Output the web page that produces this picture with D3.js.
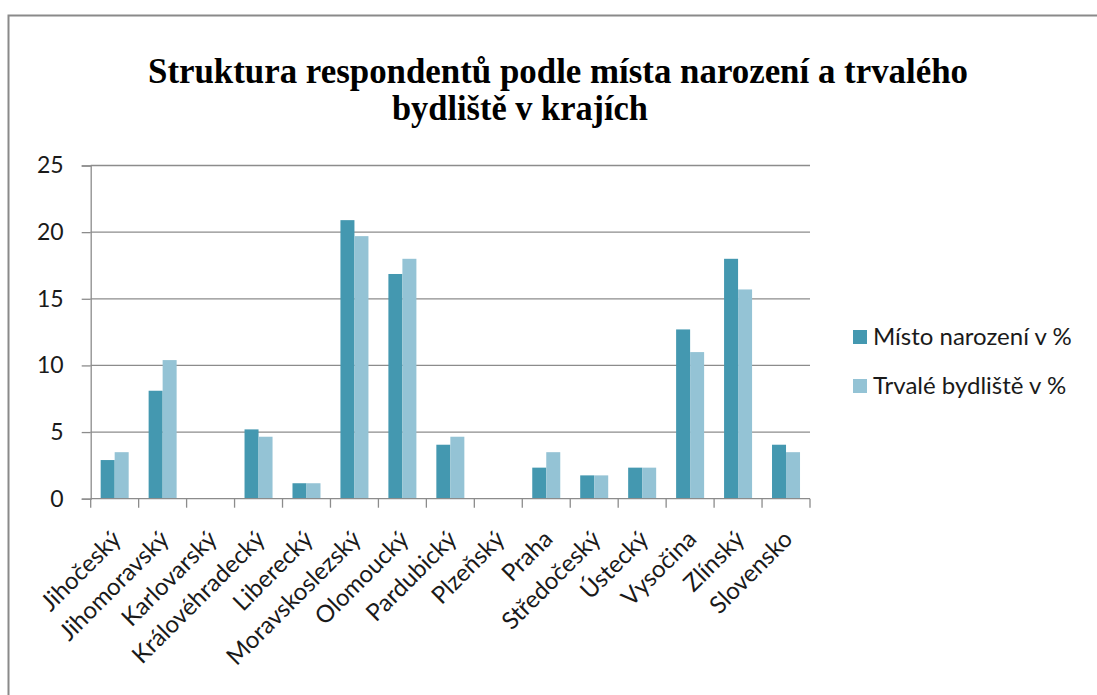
<!DOCTYPE html>
<html><head><meta charset="utf-8">
<script src="https://cdn.jsdelivr.net/npm/d3@7"></script>
<style>
html,body{margin:0;padding:0;background:#fff;}
svg{display:block;}
</style></head>
<body>
<svg id="chart" width="1097" height="695"></svg>
<script>
const categories = ["Jihočeský","Jihomoravský","Karlovarský","Královéhradecký","Liberecký","Moravskoslezský","Olomoucký","Pardubický","Plzeňský","Praha","Středočeský","Ústecký","Vysočina","Zlínský","Slovensko"];
const mistoNarozeni = [2.9,8.1,0,5.2,1.16,20.9,16.86,4.05,0,2.33,1.75,2.33,12.7,18.0,4.05];
const trvaleBydliste = [3.49,10.4,0,4.65,1.16,19.7,18.0,4.65,0,3.49,1.75,2.33,11.0,15.7,3.49];
const seriesNames = ["Místo narození v %","Trvalé bydliště v %"];
const yTicks = [0,5,10,15,20,25];
const titleLines = ["Struktura respondentů podle místa narození a trvalého","bydliště v krajích"];

(function(){
const colors = ["#4498b0","#94c3d5"];
const font = "Lato, 'Open Sans', sans-serif";

const svg = d3.select("#chart");
// outer frame
svg.append("rect").attr("x",8.5).attr("y",15.5).attr("width",1200).attr("height",800)
  .attr("fill","#fff").attr("stroke","#8a8a8a").attr("stroke-width",2);

// title
const titleX = [558,520];
const titleY = [83,120];
const titleW = [820,256];
titleLines.forEach((t,i)=>{
  svg.append("text").attr("x",titleX[i]).attr("y",titleY[i]).attr("text-anchor","middle")
    .attr("font-family","'Liberation Serif','Times New Roman',serif").attr("font-weight","bold")
    .attr("font-size",36).attr("fill","#000")
    .attr("textLength",titleW[i]).attr("lengthAdjust","spacingAndGlyphs").text(t);
});

const pLeft=90.7, pRight=810, pTop=165.5, pBottom=498.7;
const x = d3.scaleBand().domain(categories).range([pLeft,pRight]).paddingInner(0).paddingOuter(0);
const y = d3.scaleLinear().domain([0,25]).range([pBottom,pTop]);
const bw = x.bandwidth();
const barW = bw*0.292;

// gridlines
svg.append("g").selectAll("line").data(yTicks.filter(d=>d>0)).join("line")
  .attr("x1",pLeft).attr("x2",pRight).attr("y1",d=>y(d)).attr("y2",d=>y(d))
  .attr("stroke","#8c8c8c").attr("stroke-width",1.3);

// bars
const data = categories.map((c,i)=>({c, v:[mistoNarozeni[i],trvaleBydliste[i]]}));
const g = svg.append("g");
[0,1].forEach(s=>{
  g.selectAll(".b"+s).data(data).join("rect").attr("class","b"+s)
    .attr("x",d=>x(d.c)+(bw-2*barW)/2+s*barW)
    .attr("y",d=>y(d.v[s]))
    .attr("width",barW)
    .attr("height",d=>pBottom-y(d.v[s]))
    .attr("fill",colors[s]);
});

// y axis
const yAxis = d3.axisLeft(y).tickValues(yTicks).tickSize(9).tickPadding(18).tickFormat(d3.format("d"));
const ya = svg.append("g").attr("transform",`translate(${pLeft},0)`).call(yAxis);
ya.select(".domain").attr("stroke","#8c8c8c").attr("stroke-width",1.3);
ya.selectAll(".tick line").attr("stroke","#8c8c8c").attr("stroke-width",1.3);
ya.selectAll("text").attr("font-family",font).attr("font-size",23).attr("fill","#1a1a1a");

// x axis
const xa = svg.append("g").attr("transform",`translate(0,${pBottom})`);
xa.append("line").attr("x1",pLeft).attr("x2",pRight).attr("stroke","#8c8c8c").attr("stroke-width",1.3);
const bounds = categories.map(c=>x(c)).concat([pRight]);
xa.selectAll(".tk").data(bounds).join("line").attr("class","tk").attr("x1",d=>d).attr("x2",d=>d).attr("y1",0).attr("y2",9)
  .attr("stroke","#8c8c8c").attr("stroke-width",1.3);
xa.selectAll(".lbl").data(categories).join("text").attr("class","lbl")
  .attr("transform",d=>`translate(${x(d)+bw/2+2},${36}) rotate(-45)`)
  .attr("text-anchor","end").attr("dy","0.35em")
  .attr("font-family",font).attr("font-size",24).attr("fill","#1a1a1a").text(d=>d);

// legend
const leg = svg.append("g");
seriesNames.forEach((n,i)=>{
  const cy = 337 + i*49;
  leg.append("rect").attr("x",853).attr("y",cy-7).attr("width",14).attr("height",14).attr("fill",colors[i]);
  leg.append("text").attr("x",873).attr("y",cy).attr("dy","0.35em")
    .attr("font-family",font).attr("font-size",24).attr("fill","#1a1a1a").text(n);
});
})();
</script>
</body></html>
